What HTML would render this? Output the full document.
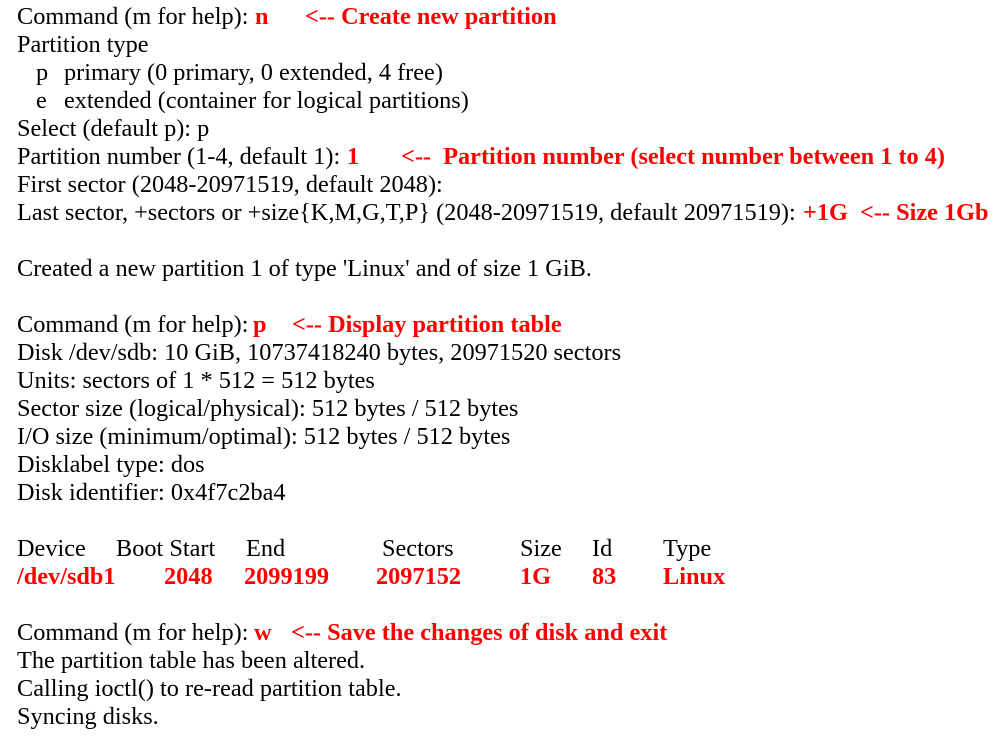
<!DOCTYPE html>
<html><head><meta charset="utf-8"><style>
html,body{margin:0;padding:0;background:#fff;width:999px;height:737px;overflow:hidden}
body{position:relative;font-family:"Liberation Serif",serif;font-size:24.3px;color:#000}
span{position:absolute;white-space:pre;line-height:28px;height:28px}
.r{color:#f00;font-weight:bold}
</style></head><body>
<span style="left:17px;top:3px">Command (m for help): </span><span class="r" style="left:255px;top:3px">n</span><span class="r" style="left:305px;top:3px">&lt;-- Create new partition</span>
<span style="left:17px;top:31px">Partition type</span>
<span style="left:36px;top:59px">p</span><span style="left:64px;top:59px">primary (0 primary, 0 extended, 4 free)</span>
<span style="left:36px;top:87px">e</span><span style="left:64px;top:87px">extended (container for logical partitions)</span>
<span style="left:17px;top:115px">Select (default p): p</span>
<span style="left:17px;top:143px">Partition number (1-4, default 1): </span><span class="r" style="left:347px;top:143px">1</span><span class="r" style="left:401px;top:143px">&lt;--  Partition number (select number between 1 to 4)</span>
<span style="left:17px;top:171px">First sector (2048-20971519, default 2048):</span>
<span style="left:17px;top:199px">Last sector, +sectors or +size{K,M,G,T,P} (2048-20971519, default 20971519): </span><span class="r" style="left:803px;top:199px">+1G</span><span class="r" style="left:860px;top:199px">&lt;-- Size 1Gb</span>
<span style="left:17px;top:255px">Created a new partition 1 of type 'Linux' and of size 1 GiB.</span>
<span style="left:17px;top:311px">Command (m for help): </span><span class="r" style="left:253px;top:311px">p</span><span class="r" style="left:292px;top:311px">&lt;-- Display partition table</span>
<span style="left:17px;top:339px">Disk /dev/sdb: 10 GiB, 10737418240 bytes, 20971520 sectors</span>
<span style="left:17px;top:367px">Units: sectors of 1 * 512 = 512 bytes</span>
<span style="left:17px;top:395px">Sector size (logical/physical): 512 bytes / 512 bytes</span>
<span style="left:17px;top:423px">I/O size (minimum/optimal): 512 bytes / 512 bytes</span>
<span style="left:17px;top:451px">Disklabel type: dos</span>
<span style="left:17px;top:479px">Disk identifier: 0x4f7c2ba4</span>
<span style="left:17px;top:535px">Device</span><span style="left:116px;top:535px">Boot Start</span><span style="left:246px;top:535px">End</span><span style="left:382px;top:535px">Sectors</span><span style="left:520px;top:535px">Size</span><span style="left:592px;top:535px">Id</span><span style="left:663px;top:535px">Type</span>
<span class="r" style="left:17px;top:563px">/dev/sdb1</span><span class="r" style="left:164px;top:563px">2048</span><span class="r" style="left:244px;top:563px">2099199</span><span class="r" style="left:376px;top:563px">2097152</span><span class="r" style="left:520px;top:563px">1G</span><span class="r" style="left:592px;top:563px">83</span><span class="r" style="left:663px;top:563px">Linux</span>
<span style="left:17px;top:619px">Command (m for help): </span><span class="r" style="left:254px;top:619px">w</span><span class="r" style="left:291px;top:619px">&lt;-- Save the changes of disk and exit</span>
<span style="left:17px;top:647px">The partition table has been altered.</span>
<span style="left:17px;top:675px">Calling ioctl() to re-read partition table.</span>
<span style="left:17px;top:703px">Syncing disks.</span>
</body></html>
